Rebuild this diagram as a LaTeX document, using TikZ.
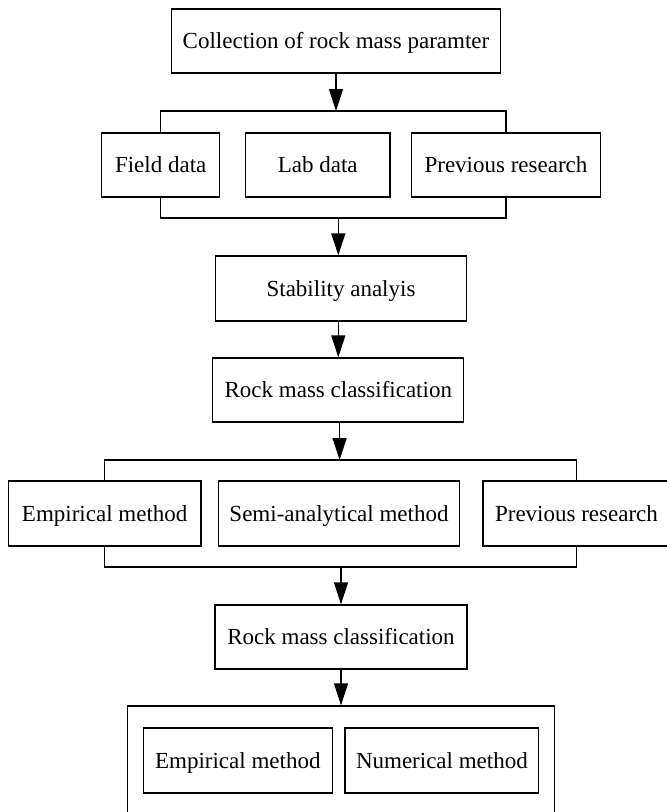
\documentclass[tikz,border=0pt]{standalone}
\usepackage{fontspec}
\setmainfont{Liberation Serif}
\usetikzlibrary{arrows.meta}
\tikzset{
  box/.style={draw, line width=1.3pt, inner sep=0pt, minimum height=64pt, text height=15.2pt, text depth=0pt, font=\fontsize{23}{27}\selectfont},
  link/.style={line width=1.3pt},
  arr/.style={line width=1.3pt, -{Triangle[length=22pt,width=14pt]}}
}
\begin{document}
\begin{tikzpicture}[x=1pt,y=-1pt]
\useasboundingbox (0,0) rectangle (667,812);
\clip (0,0) rectangle (667,812);
\fill[white] (0,0) rectangle (667,812);
% row 1
\node[box, minimum width=329pt] (top) at (336,41) {Collection of rock mass paramter};
% row 2
\node[box, minimum width=118pt] (field) at (160.7,165) {Field data};
\node[box, minimum width=144.3pt] (lab) at (317.7,165) {Lab data};
\node[box, minimum width=189pt] (prev1) at (506,165) {Previous research};
% row 3
\node[box, minimum width=251.5pt, minimum height=65pt] (stab) at (341,288.5) {Stability analyis};
\node[box, minimum width=251pt] (rmc1) at (338.3,390) {Rock mass classification};
% row 4
\node[box, minimum width=192.4pt, minimum height=65pt] (emp) at (104.7,513.5) {Empirical method};
\node[box, minimum width=241.3pt, minimum height=65pt] (semi) at (339,513.5) {Semi-analytical method};
\node[box, minimum width=187pt, minimum height=65pt] (prev2) at (576.5,513.5) {Previous research};
% row 5
\node[box, minimum width=252pt] (rmc2) at (341,637) {Rock mass classification};
\node[box, minimum width=426.6pt, minimum height=109pt] (big) at (341,760.5) {};
\node[box, minimum width=189pt, minimum height=65pt] (emp2) at (237.8,760.5) {Empirical method};
\node[box, minimum width=193.7pt, minimum height=65pt] (num) at (441.9,760.5) {Numerical method};
% junction points
\coordinate (j1) at (336,111);
\coordinate (j2) at (338.3,218);
\coordinate (j3) at (339.6,460);
\coordinate (j4) at (341,567);
% connectors
\draw[arr] (top) -- (j1);
\draw[link] (field.north) |- (j1) -| (prev1.north);
\draw[link] (field.south) |- (j2) -| (prev1.south);
\draw[arr] (j2) -- (stab.north -| j2);
\draw[arr] (stab.south -| j2) -- (rmc1.north -| j2);
\draw[arr] (rmc1.south -| j3) -- (j3);
\draw[link] (emp.north) |- (j3) -| (prev2.north);
\draw[link] (emp.south) |- (j4) -| (prev2.south);
\draw[arr] (j4) -- (rmc2.north -| j4);
\draw[arr] (rmc2) -- (big);
\end{tikzpicture}
\end{document}
